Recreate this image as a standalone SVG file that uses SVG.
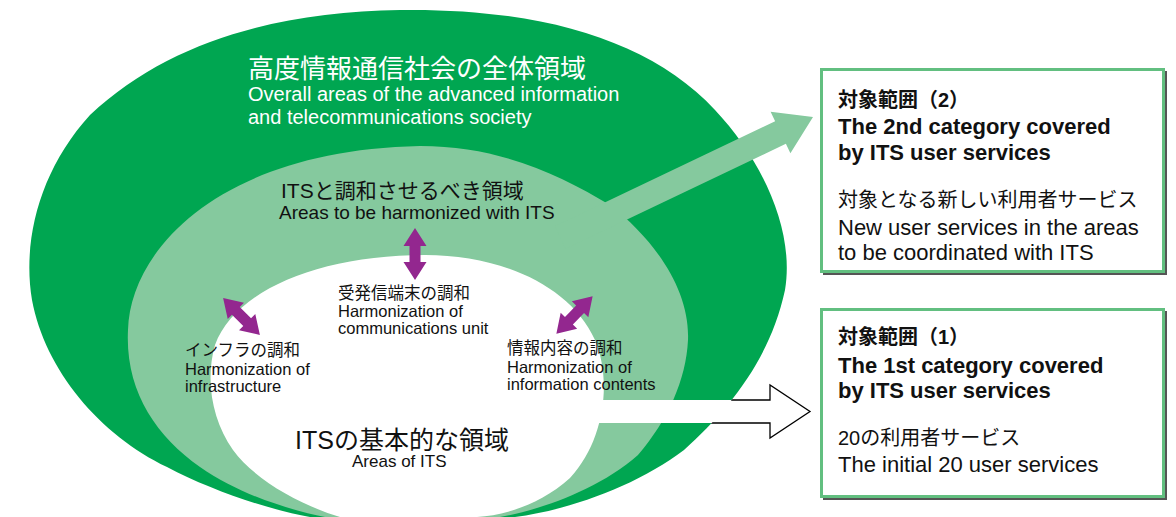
<svg xmlns="http://www.w3.org/2000/svg" width="1176" height="517" viewBox="0 0 1176 517">
<style>
  .lat { font-family: "Liberation Sans", "Noto Sans CJK JP", sans-serif; }
  .jp { font-family: "Liberation Sans", "Noto Sans CJK JP", sans-serif; }
  .dk { fill: #00a651; }
  .lt { fill: #85c99e; }
  .wh { fill: #ffffff; }
  .pu { fill: #93278f; }
  .blk { fill: #111111; }
  .box { fill: #ffffff; stroke: #62bf80; stroke-width: 3; }
  .shadow { fill: #555555; }
</style>
<defs>
  <path id="outerShape" d="M 400 10 C 540 8, 650 40, 715 110 C 762 160, 795 230, 785 290 C 770 360, 728 410, 684 450 C 638 485, 570 510, 515 517 L 515 560 L 310 560 L 310 517 C 270 510, 210 490, 167 467 C 100 435, 45 370, 32 300 C 22 240, 40 170, 90 115 C 170 40, 280 12, 400 10 Z"/>
  <path id="dbl" d="M -26 0 L -8 -11.5 L -8 -5.5 L 8 -5.5 L 8 -11.5 L 26 0 L 8 11.5 L 8 5.5 L -8 5.5 L -8 11.5 Z"/>
  <mask id="outsideDark" maskUnits="userSpaceOnUse" x="0" y="0" width="1176" height="517">
    <rect x="0" y="0" width="1176" height="517" fill="#ffffff"/>
    <use href="#outerShape" fill="#000000"/>
  </mask>
</defs>

<g id="outer-area">
  <use href="#outerShape" class="dk"/>
  <text class="jp" x="248" y="78" font-size="26" fill="#ffffff">高度情報通信社会の全体領域</text>
  <text class="lat" x="248" y="101" font-size="20" fill="#ffffff">Overall areas of the advanced information</text>
  <text class="lat" x="248" y="124" font-size="20" fill="#ffffff">and telecommunications society</text>
</g>

<g id="harmonize-area">
  <path class="lt" d="M 420 146 C 500 146, 560 175, 610 205 C 655 240, 690 290, 688 340 C 686 380, 668 420, 638 455 C 598 490, 540 510, 500 517 L 500 560 L 325 560 L 325 517 C 290 510, 240 495, 200 467 C 155 435, 125 390, 128 330 C 130 250, 220 150, 420 146 Z"/>
  <text class="jp blk" x="281" y="198" font-size="21">ITSと調和させるべき領域</text>
  <text class="lat blk" x="279" y="219" font-size="19">Areas to be harmonized with ITS</text>
</g>

<g id="connectors-arrow2">
  <polygon class="lt" transform="translate(813,117) rotate(-25.5)" points="0,0 -36,-23 -36,-12.5 -280,-12.5 -280,12.5 -36,12.5 -36,23"/>
</g>

<g id="its-area">
  <path class="wh" d="M 425 255 C 500 255, 570 285, 595 340 C 612 380, 605 440, 570 478 C 540 505, 505 515, 477 517 L 477 560 L 340 560 L 340 517 C 300 505, 255 480, 233 450 C 212 420, 205 380, 215 345 C 235 290, 320 255, 425 255 Z"/>
  <text class="jp blk" x="295" y="449" font-size="25">ITSの基本的な領域</text>
  <text class="lat blk" x="352" y="467" font-size="17">Areas of ITS</text>
</g>

<g id="harm-comm">
  <text class="jp blk" x="338" y="299" font-size="16.5">受発信端末の調和</text>
  <text class="lat blk" x="338" y="317" font-size="16.5">Harmonization of</text>
  <text class="lat blk" x="338" y="334" font-size="16.5">communications unit</text>
</g>
<g id="harm-infra">
  <text class="jp blk" x="185" y="356" font-size="16.5">インフラの調和</text>
  <text class="lat blk" x="185" y="375" font-size="16.5">Harmonization of</text>
  <text class="lat blk" x="185" y="392" font-size="16.5">infrastructure</text>
</g>
<g id="harm-info">
  <text class="jp blk" x="507" y="354" font-size="16.5">情報内容の調和</text>
  <text class="lat blk" x="507" y="373" font-size="16.5">Harmonization of</text>
  <text class="lat blk" x="507" y="390" font-size="16.5">information contents</text>
</g>

<g id="connectors">
  <polygon class="wh" points="590,400 770,400 770,385 810,411.5 770,438 770,423 590,423"/>
  <polyline points="680,400 770,400 770,385 810,411.5 770,438 770,423 660,423" fill="none" stroke="#000000" stroke-width="1.3" mask="url(#outsideDark)"/>
  <use href="#dbl" class="pu" transform="translate(415,254) rotate(90)"/>
  <use href="#dbl" class="pu" transform="translate(241.5,316.5) rotate(45)"/>
  <use href="#dbl" class="pu" transform="translate(574.5,315) rotate(-45.8)"/>
</g>

<g id="box-2">
  <rect class="shadow" x="823" y="71" width="344" height="204"/>
  <rect class="box" x="821.5" y="69.5" width="342" height="202"/>
  <text class="jp blk" x="838" y="107" font-size="20" font-weight="bold">対象範囲（2）</text>
  <text class="lat blk" x="838" y="134" font-size="22" font-weight="bold">The 2nd category covered</text>
  <text class="lat blk" x="838" y="160" font-size="22" font-weight="bold">by ITS user services</text>
  <text class="jp blk" x="838" y="207" font-size="20">対象となる新しい利用者サービス</text>
  <text class="lat blk" x="838" y="235" font-size="22">New user services in the areas</text>
  <text class="lat blk" x="838" y="260" font-size="22">to be coordinated with ITS</text>
</g>

<g id="box-1">
  <rect class="shadow" x="823" y="311" width="344" height="189"/>
  <rect class="box" x="821.5" y="309.5" width="342" height="187"/>
  <text class="jp blk" x="838" y="344" font-size="20" font-weight="bold">対象範囲（1）</text>
  <text class="lat blk" x="838" y="373" font-size="22" font-weight="bold">The 1st category covered</text>
  <text class="lat blk" x="838" y="398" font-size="22" font-weight="bold">by ITS user services</text>
  <text class="jp blk" x="838" y="445" font-size="20">20の利用者サービス</text>
  <text class="lat blk" x="838" y="472" font-size="22">The initial 20 user services</text>
</g>
</svg>
